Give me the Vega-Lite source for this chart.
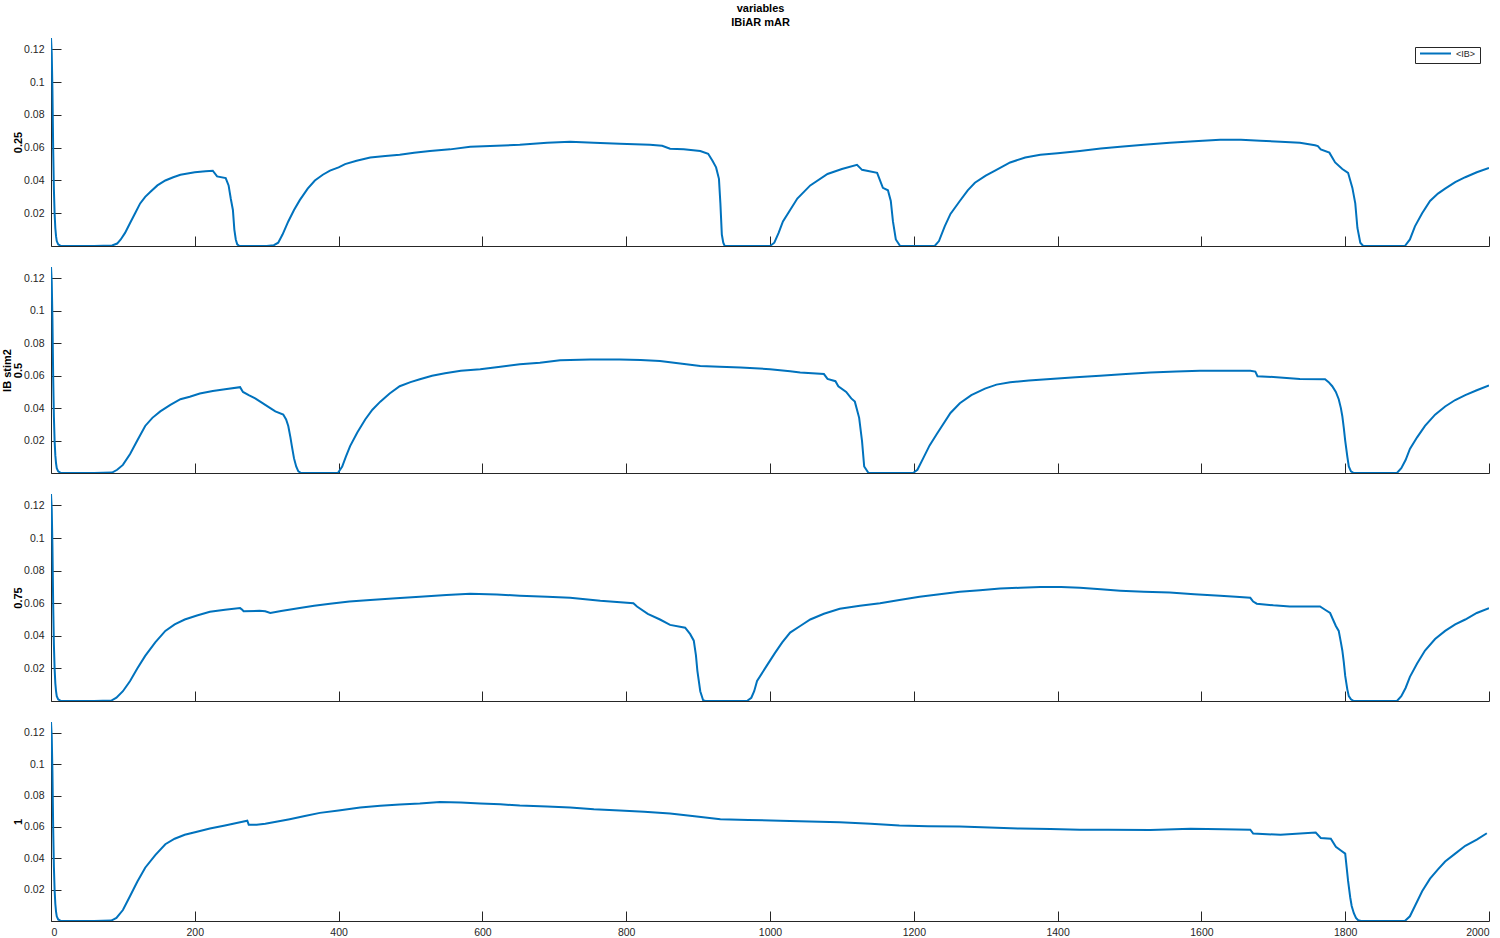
{
"$schema":"https://vega.github.io/schema/vega-lite/v6.json",
"background":"white",
"padding":{"left":1,"top":3,"right":11,"bottom":5},
"title":{"text":["variables","IBiAR mAR"],"fontSize":11,"fontWeight":"bold","font":"Liberation Sans","color":"#000000","anchor":"middle","offset":10,"lineHeight":14,"dx":15},
"config":{
"view":{"stroke":null},
"font":"Liberation Sans",
"axis":{"grid":false,"domainColor":"#262626","tickColor":"#262626","labelColor":"#262626","labelFont":"Liberation Sans","labelFontSize":10.5,"tickSize":-10,"domainWidth":1,"tickWidth":1,"titleFont":"Liberation Sans","titleFontSize":11,"titleFontWeight":"bold","titleColor":"#000000","titleLineHeight":11},
"concat":{"spacing":21},
"line":{"color":"#0072BD","strokeWidth":2}
},
"bounds":"flush",
"vconcat":[
{"width":1438,"height":208,
"data":{"values":[{"x":0,"y":0.127},{"x":1,"y":0.118},{"x":2,"y":0.095},{"x":3,"y":0.06},{"x":4,"y":0.035},{"x":5,"y":0.02},{"x":6,"y":0.011},{"x":7,"y":0.006},{"x":8,"y":0.003},{"x":10,"y":0.001},{"x":13,"y":0.0002},{"x":18,"y":0},
{"x":60,"y":0},{"x":85,"y":0.0003},{"x":92,"y":0.0015},{"x":97,"y":0.004},{"x":103,"y":0.008},{"x":110,"y":0.014},{"x":117,"y":0.02},{"x":124,"y":0.026},{"x":131,"y":0.03},{"x":138,"y":0.033},{"x":148,"y":0.037},{"x":159,"y":0.04},{"x":170,"y":0.042},{"x":180,"y":0.0435},{"x":200,"y":0.045},{"x":215,"y":0.0457},{"x":225,"y":0.046},{"x":231,"y":0.0425},{"x":243,"y":0.0415},{"x":247,"y":0.037},{"x":250,"y":0.029},{"x":253,"y":0.022},{"x":255,"y":0.01},{"x":257,"y":0.004},{"x":259,"y":0.001},{"x":262,"y":0},
{"x":300,"y":0},{"x":310,"y":0.0005},{"x":316,"y":0.002},{"x":322,"y":0.007},{"x":330,"y":0.015},{"x":338,"y":0.022},{"x":346,"y":0.028},{"x":357,"y":0.035},{"x":367,"y":0.04},{"x":378,"y":0.0435},{"x":388,"y":0.046},{"x":400,"y":0.048},{"x":409,"y":0.05},{"x":425,"y":0.052},{"x":444,"y":0.054},{"x":465,"y":0.055},{"x":485,"y":0.0557},{"x":505,"y":0.057},{"x":527,"y":0.058},{"x":555,"y":0.059},{"x":583,"y":0.0606},{"x":620,"y":0.0612},{"x":652,"y":0.0618},{"x":690,"y":0.063},{"x":722,"y":0.0636},{"x":755,"y":0.063},{"x":791,"y":0.0624},{"x":833,"y":0.0618},{"x":850,"y":0.0612},{"x":861,"y":0.0594},{"x":880,"y":0.059},{"x":903,"y":0.058},{"x":914,"y":0.0563},{"x":920,"y":0.052},{"x":925,"y":0.048},{"x":929,"y":0.041},{"x":931,"y":0.026},{"x":933,"y":0.007},{"x":935,"y":0.002},{"x":937,"y":0},
{"x":1000,"y":0},{"x":1006,"y":0.002},{"x":1012,"y":0.008},{"x":1018,"y":0.015},{"x":1028,"y":0.022},{"x":1038,"y":0.029},{"x":1056,"y":0.037},{"x":1080,"y":0.044},{"x":1100,"y":0.047},{"x":1121,"y":0.0496},{"x":1128,"y":0.0465},{"x":1149,"y":0.0447},{"x":1157,"y":0.0355},{"x":1164,"y":0.034},{"x":1168,"y":0.0275},{"x":1171,"y":0.015},{"x":1175,"y":0.004},{"x":1181,"y":0},
{"x":1229,"y":0},{"x":1235,"y":0.003},{"x":1243,"y":0.012},{"x":1251,"y":0.0196},{"x":1264,"y":0.0275},{"x":1275,"y":0.034},{"x":1285,"y":0.0386},{"x":1300,"y":0.043},{"x":1313,"y":0.046},{"x":1334,"y":0.051},{"x":1355,"y":0.054},{"x":1376,"y":0.0557},{"x":1400,"y":0.0567},{"x":1431,"y":0.058},{"x":1460,"y":0.0595},{"x":1487,"y":0.0606},{"x":1520,"y":0.0618},{"x":1556,"y":0.063},{"x":1590,"y":0.064},{"x":1626,"y":0.0649},{"x":1655,"y":0.0648},{"x":1682,"y":0.0643},{"x":1710,"y":0.0637},{"x":1737,"y":0.063},{"x":1758,"y":0.0615},{"x":1762,"y":0.061},{"x":1766,"y":0.059},{"x":1778,"y":0.057},{"x":1786,"y":0.051},{"x":1796,"y":0.047},{"x":1804,"y":0.0447},{"x":1810,"y":0.0355},{"x":1814,"y":0.026},{"x":1817,"y":0.011},{"x":1821,"y":0.002},{"x":1825,"y":0},
{"x":1883,"y":0},{"x":1890,"y":0.004},{"x":1897,"y":0.012},{"x":1907,"y":0.02},{"x":1918,"y":0.0275},{"x":1929,"y":0.032},{"x":1939,"y":0.035},{"x":1953,"y":0.039},{"x":1967,"y":0.042},{"x":1983,"y":0.045},{"x":2000,"y":0.0477}]},
"mark":{"type":"line","clip":true},
"encoding":{
"x":{"field":"x","type":"quantitative","scale":{"domain":[0,2000],"nice":false},"axis":{"values":[0,200,400,600,800,1000,1200,1400,1600,1800,2000],"labels":false,"title":null}},
"y":{"field":"y","type":"quantitative","scale":{"domain":[0,0.127],"nice":false},"axis":{"values":[0.02,0.04,0.06,0.08,0.1,0.12],"format":"~g","labelPadding":17,"title":"0.25","titlePadding":0}},
"color":{"datum":"<IB>","type":"nominal","scale":{"range":["#0072BD"]},"legend":{"title":null,"orient":"top-right","offset":9,"strokeColor":"#262626","fillColor":"white","padding":4,"clipHeight":5,"symbolType":"stroke","symbolSize":961,"symbolStrokeWidth":2,"labelFontSize":9,"labelFont":"Liberation Sans","labelColor":"#262626","labelOffset":4}}
}},
{"width":1438,"height":206,
"data":{"values":[{"x":0,"y":0.127},{"x":1,"y":0.118},{"x":2,"y":0.095},{"x":3,"y":0.06},{"x":4,"y":0.035},{"x":5,"y":0.02},{"x":6,"y":0.011},{"x":7,"y":0.006},{"x":8,"y":0.003},{"x":10,"y":0.001},{"x":13,"y":0.0002},{"x":18,"y":0},
{"x":60,"y":0},{"x":85,"y":0.0003},{"x":92,"y":0.002},{"x":100,"y":0.005},{"x":110,"y":0.0117},{"x":120,"y":0.02},{"x":131,"y":0.029},{"x":141,"y":0.034},{"x":152,"y":0.038},{"x":166,"y":0.042},{"x":180,"y":0.0455},{"x":193,"y":0.047},{"x":207,"y":0.049},{"x":225,"y":0.0505},{"x":242,"y":0.0517},{"x":263,"y":0.0529},{"x":267,"y":0.05},{"x":275,"y":0.048},{"x":284,"y":0.046},{"x":298,"y":0.042},{"x":305,"y":0.04},{"x":312,"y":0.038},{"x":323,"y":0.036},{"x":327,"y":0.033},{"x":330,"y":0.029},{"x":333,"y":0.022},{"x":335,"y":0.0166},{"x":338,"y":0.009},{"x":341,"y":0.004},{"x":344,"y":0.001},{"x":348,"y":0},
{"x":399,"y":0},{"x":405,"y":0.004},{"x":410,"y":0.01},{"x":416,"y":0.0166},{"x":426,"y":0.025},{"x":437,"y":0.033},{"x":447,"y":0.039},{"x":458,"y":0.044},{"x":471,"y":0.049},{"x":485,"y":0.0535},{"x":500,"y":0.056},{"x":513,"y":0.0578},{"x":530,"y":0.06},{"x":548,"y":0.0615},{"x":570,"y":0.063},{"x":597,"y":0.064},{"x":625,"y":0.0655},{"x":652,"y":0.067},{"x":680,"y":0.068},{"x":708,"y":0.0695},{"x":750,"y":0.07},{"x":791,"y":0.07},{"x":820,"y":0.0697},{"x":847,"y":0.069},{"x":875,"y":0.0675},{"x":903,"y":0.066},{"x":930,"y":0.0655},{"x":959,"y":0.065},{"x":1000,"y":0.064},{"x":1028,"y":0.0627},{"x":1042,"y":0.062},{"x":1075,"y":0.061},{"x":1080,"y":0.058},{"x":1091,"y":0.0566},{"x":1095,"y":0.0535},{"x":1106,"y":0.05},{"x":1113,"y":0.046},{"x":1118,"y":0.044},{"x":1124,"y":0.034},{"x":1128,"y":0.0197},{"x":1131,"y":0.004},{"x":1137,"y":0},
{"x":1199,"y":0},{"x":1205,"y":0.002},{"x":1213,"y":0.009},{"x":1222,"y":0.017},{"x":1232,"y":0.024},{"x":1251,"y":0.037},{"x":1264,"y":0.043},{"x":1280,"y":0.048},{"x":1299,"y":0.052},{"x":1315,"y":0.0545},{"x":1334,"y":0.056},{"x":1360,"y":0.057},{"x":1390,"y":0.058},{"x":1425,"y":0.059},{"x":1459,"y":0.06},{"x":1495,"y":0.061},{"x":1529,"y":0.062},{"x":1565,"y":0.0625},{"x":1598,"y":0.063},{"x":1635,"y":0.063},{"x":1668,"y":0.063},{"x":1675,"y":0.0625},{"x":1678,"y":0.0597},{"x":1700,"y":0.0592},{"x":1737,"y":0.058},{"x":1772,"y":0.0578},{"x":1777,"y":0.056},{"x":1782,"y":0.0535},{"x":1787,"y":0.05},{"x":1791,"y":0.0455},{"x":1794,"y":0.04},{"x":1796,"y":0.035},{"x":1798,"y":0.028},{"x":1800,"y":0.02},{"x":1803,"y":0.01},{"x":1805,"y":0.004},{"x":1808,"y":0.001},{"x":1812,"y":0},
{"x":1872,"y":0},{"x":1878,"y":0.003},{"x":1884,"y":0.008},{"x":1890,"y":0.0148},{"x":1900,"y":0.022},{"x":1911,"y":0.029},{"x":1925,"y":0.036},{"x":1939,"y":0.041},{"x":1953,"y":0.045},{"x":1967,"y":0.048},{"x":1983,"y":0.051},{"x":2000,"y":0.054}]},
"mark":{"type":"line","clip":true},
"encoding":{
"x":{"field":"x","type":"quantitative","scale":{"domain":[0,2000],"nice":false},"axis":{"values":[0,200,400,600,800,1000,1200,1400,1600,1800,2000],"labels":false,"title":null}},
"y":{"field":"y","type":"quantitative","scale":{"domain":[0,0.127],"nice":false},"axis":{"values":[0.02,0.04,0.06,0.08,0.1,0.12],"format":"~g","labelPadding":17,"title":["IB stim2","0.5"],"titlePadding":0}}
}},
{"width":1438,"height":207,
"data":{"values":[{"x":0,"y":0.127},{"x":1,"y":0.118},{"x":2,"y":0.095},{"x":3,"y":0.06},{"x":4,"y":0.035},{"x":5,"y":0.02},{"x":6,"y":0.011},{"x":7,"y":0.006},{"x":8,"y":0.003},{"x":10,"y":0.001},{"x":13,"y":0.0002},{"x":18,"y":0},
{"x":60,"y":0},{"x":84,"y":0.0003},{"x":91,"y":0.002},{"x":100,"y":0.006},{"x":110,"y":0.0123},{"x":120,"y":0.02},{"x":131,"y":0.0277},{"x":145,"y":0.036},{"x":159,"y":0.043},{"x":172,"y":0.047},{"x":186,"y":0.05},{"x":203,"y":0.0525},{"x":221,"y":0.0547},{"x":242,"y":0.056},{"x":263,"y":0.057},{"x":266,"y":0.056},{"x":268,"y":0.055},{"x":290,"y":0.0553},{"x":298,"y":0.055},{"x":305,"y":0.054},{"x":320,"y":0.0552},{"x":346,"y":0.057},{"x":366,"y":0.0585},{"x":388,"y":0.0597},{"x":415,"y":0.061},{"x":444,"y":0.062},{"x":480,"y":0.063},{"x":513,"y":0.064},{"x":550,"y":0.065},{"x":583,"y":0.0658},{"x":620,"y":0.0653},{"x":652,"y":0.0646},{"x":690,"y":0.064},{"x":722,"y":0.0633},{"x":764,"y":0.0615},{"x":810,"y":0.06},{"x":815,"y":0.058},{"x":830,"y":0.0535},{"x":847,"y":0.05},{"x":861,"y":0.0467},{"x":882,"y":0.045},{"x":889,"y":0.041},{"x":894,"y":0.037},{"x":897,"y":0.028},{"x":899,"y":0.0185},{"x":903,"y":0.006},{"x":907,"y":0.0005},{"x":910,"y":0},
{"x":968,"y":0},{"x":974,"y":0.002},{"x":978,"y":0.006},{"x":982,"y":0.0123},{"x":996,"y":0.022},{"x":1007,"y":0.0295},{"x":1017,"y":0.036},{"x":1028,"y":0.042},{"x":1042,"y":0.046},{"x":1056,"y":0.05},{"x":1075,"y":0.0535},{"x":1097,"y":0.0566},{"x":1125,"y":0.0585},{"x":1153,"y":0.06},{"x":1180,"y":0.062},{"x":1208,"y":0.064},{"x":1236,"y":0.0655},{"x":1264,"y":0.067},{"x":1292,"y":0.068},{"x":1320,"y":0.069},{"x":1348,"y":0.0695},{"x":1376,"y":0.07},{"x":1405,"y":0.07},{"x":1431,"y":0.0695},{"x":1460,"y":0.0685},{"x":1487,"y":0.0677},{"x":1520,"y":0.067},{"x":1556,"y":0.0665},{"x":1590,"y":0.0655},{"x":1626,"y":0.0646},{"x":1648,"y":0.064},{"x":1668,"y":0.0633},{"x":1672,"y":0.061},{"x":1677,"y":0.0597},{"x":1700,"y":0.0587},{"x":1723,"y":0.058},{"x":1765,"y":0.058},{"x":1772,"y":0.056},{"x":1779,"y":0.054},{"x":1783,"y":0.05},{"x":1787,"y":0.046},{"x":1791,"y":0.043},{"x":1794,"y":0.036},{"x":1796,"y":0.031},{"x":1798,"y":0.024},{"x":1800,"y":0.0154},{"x":1803,"y":0.007},{"x":1805,"y":0.003},{"x":1808,"y":0.001},{"x":1812,"y":0},
{"x":1872,"y":0},{"x":1878,"y":0.003},{"x":1884,"y":0.008},{"x":1890,"y":0.0148},{"x":1900,"y":0.023},{"x":1911,"y":0.031},{"x":1925,"y":0.038},{"x":1939,"y":0.043},{"x":1953,"y":0.047},{"x":1967,"y":0.05},{"x":1983,"y":0.054},{"x":2000,"y":0.057}]},
"mark":{"type":"line","clip":true},
"encoding":{
"x":{"field":"x","type":"quantitative","scale":{"domain":[0,2000],"nice":false},"axis":{"values":[0,200,400,600,800,1000,1200,1400,1600,1800,2000],"labels":false,"title":null}},
"y":{"field":"y","type":"quantitative","scale":{"domain":[0,0.127],"nice":false},"axis":{"values":[0.02,0.04,0.06,0.08,0.1,0.12],"format":"~g","labelPadding":17,"title":"0.75","titlePadding":0}}
}},
{"width":1438,"height":199,
"data":{"values":[{"x":0,"y":0.127},{"x":1,"y":0.118},{"x":2,"y":0.095},{"x":3,"y":0.06},{"x":4,"y":0.035},{"x":5,"y":0.02},{"x":6,"y":0.011},{"x":7,"y":0.006},{"x":8,"y":0.003},{"x":10,"y":0.001},{"x":13,"y":0.0002},{"x":18,"y":0},
{"x":60,"y":0},{"x":84,"y":0.0003},{"x":91,"y":0.002},{"x":100,"y":0.007},{"x":110,"y":0.016},{"x":120,"y":0.025},{"x":131,"y":0.034},{"x":145,"y":0.042},{"x":159,"y":0.049},{"x":172,"y":0.0525},{"x":186,"y":0.055},{"x":203,"y":0.057},{"x":221,"y":0.059},{"x":242,"y":0.061},{"x":263,"y":0.063},{"x":273,"y":0.064},{"x":275,"y":0.0615},{"x":286,"y":0.0615},{"x":298,"y":0.062},{"x":315,"y":0.0635},{"x":332,"y":0.065},{"x":353,"y":0.067},{"x":374,"y":0.069},{"x":400,"y":0.0705},{"x":430,"y":0.0724},{"x":458,"y":0.0735},{"x":485,"y":0.0744},{"x":513,"y":0.075},{"x":541,"y":0.076},{"x":570,"y":0.0757},{"x":597,"y":0.075},{"x":625,"y":0.0745},{"x":652,"y":0.0737},{"x":690,"y":0.073},{"x":722,"y":0.0724},{"x":755,"y":0.0713},{"x":791,"y":0.0705},{"x":825,"y":0.0697},{"x":861,"y":0.0686},{"x":895,"y":0.0668},{"x":931,"y":0.065},{"x":970,"y":0.0645},{"x":1014,"y":0.064},{"x":1055,"y":0.0635},{"x":1097,"y":0.063},{"x":1140,"y":0.062},{"x":1180,"y":0.061},{"x":1220,"y":0.0605},{"x":1264,"y":0.0603},{"x":1305,"y":0.0597},{"x":1348,"y":0.059},{"x":1390,"y":0.0587},{"x":1431,"y":0.0583},{"x":1470,"y":0.0583},{"x":1529,"y":0.058},{"x":1585,"y":0.0588},{"x":1630,"y":0.0585},{"x":1668,"y":0.0583},{"x":1672,"y":0.0558},{"x":1710,"y":0.055},{"x":1759,"y":0.0564},{"x":1766,"y":0.053},{"x":1780,"y":0.0525},{"x":1787,"y":0.0474},{"x":1794,"y":0.045},{"x":1800,"y":0.043},{"x":1804,"y":0.0256},{"x":1807,"y":0.015},{"x":1809,"y":0.0096},{"x":1812,"y":0.005},{"x":1815,"y":0.002},{"x":1818,"y":0.0005},{"x":1822,"y":0},
{"x":1883,"y":0},{"x":1890,"y":0.003},{"x":1897,"y":0.0096},{"x":1907,"y":0.019},{"x":1918,"y":0.027},{"x":1929,"y":0.033},{"x":1939,"y":0.038},{"x":1953,"y":0.043},{"x":1967,"y":0.048},{"x":1983,"y":0.052},{"x":1997,"y":0.056}]},
"mark":{"type":"line","clip":true},
"encoding":{
"x":{"field":"x","type":"quantitative","scale":{"domain":[0,2000],"nice":false},"axis":{"values":[0,200,400,600,800,1000,1200,1400,1600,1800,2000],"format":"d","labelPadding":16,"title":null}},
"y":{"field":"y","type":"quantitative","scale":{"domain":[0,0.127],"nice":false},"axis":{"values":[0.02,0.04,0.06,0.08,0.1,0.12],"format":"~g","labelPadding":17,"title":"1","titlePadding":0}}
}}
]
}
